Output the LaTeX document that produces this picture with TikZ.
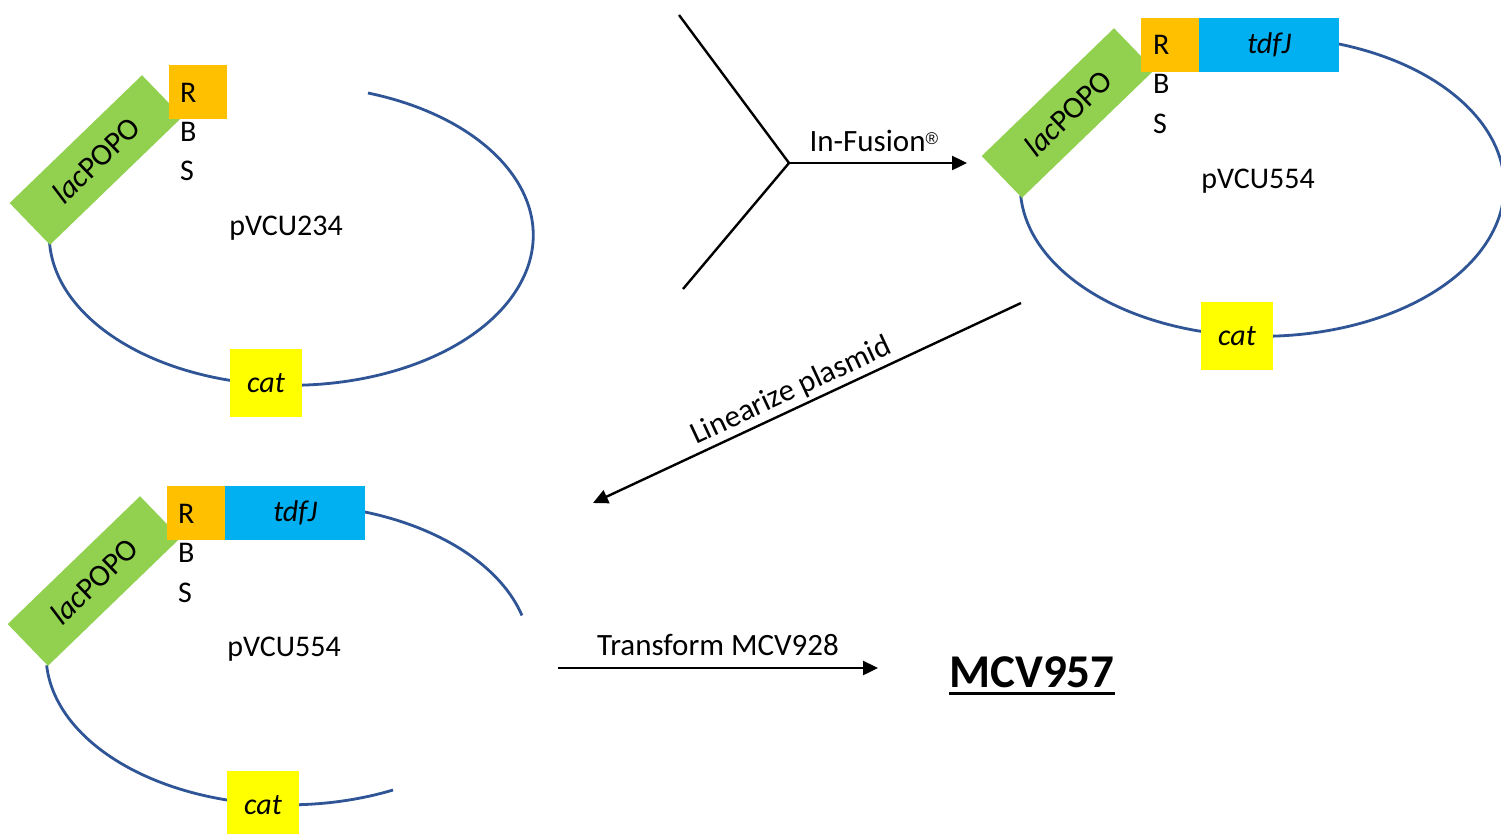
\documentclass[tikz,border=0pt]{standalone}
\usepackage{fontspec}
\setmainfont{Carlito}
\newfontfamily\marksfont{Liberation Sans}
\usetikzlibrary{arrows.meta}

\definecolor{promotergreen}{HTML}{92D050}
\definecolor{rbsorange}{HTML}{FFC000}
\definecolor{geneblue}{HTML}{00B0F0}
\definecolor{catyellow}{HTML}{FFFF00}
\definecolor{plasmidblue}{HTML}{2F5597}

\tikzset{
  plasmidline/.style={draw=plasmidblue, line width=2.8pt},
  promoterbox/.style={fill=promotergreen, rotate=44, minimum width=184pt,
    minimum height=58pt, inner sep=0pt, font=\fontsize{31pt}{36pt}\selectfont},
  rbsbox/.style={fill=rbsorange, minimum width=58pt, minimum height=54pt,
    inner sep=0pt, anchor=north west},
  genebox/.style={fill=geneblue, minimum width=140pt, minimum height=54pt,
    inner sep=0pt, anchor=north west, font=\fontsize{30pt}{36pt}\selectfont\itshape},
  catbox/.style={fill=catyellow, minimum width=72pt, minimum height=68pt,
    inner sep=0pt, font=\fontsize{30pt}{36pt}\selectfont\itshape},
  txt/.style={inner sep=0pt, anchor=base, font=\fontsize{30pt}{36pt}\selectfont},
  steptxt/.style={txt, font=\fontsize{31pt}{36pt}\selectfont},
  letter/.style={txt, anchor=base west},
  flowline/.style={line width=2.4pt, black},
  steparrow/.style={flowline, -{Triangle[length=15pt, width=14pt]}},
}
% registered-trademark sign, raised to cap height
\newcommand{\regmark}{\raisebox{7.5pt}{\marksfont\fontsize{17pt}{17pt}\selectfont ®}}

\begin{document}
\begin{tikzpicture}[x=1pt, y=-1pt]
\path[use as bounding box, fill=white] (0,0) rectangle (1501,833);

% ---------- pVCU234 ----------
\draw[plasmidline] (368,93) arc[start angle=71.5, end angle=-177, x radius=242pt, y radius=150pt];
\node[catbox] (catA) at (266,383) {cat};
\node[promoterbox] (lacA) at (96,160) {\textit{lac}POPO};
\node[rbsbox] (rbsA) at (169,65) {};
\node[letter] (rA) at (180,102) {R};
\node[letter] (bA) at (180,141) {B};
\node[letter] (sA) at (180,180) {S};
\node[txt] (nameA) at (286,235) {pVCU234};

% ---------- pVCU554 (circular) ----------
\draw[plasmidline] (1339,44) arc[start angle=71.5, end angle=-176.5, x radius=242pt, y radius=150pt];
\node[catbox] (catB) at (1237,336) {cat};
\node[promoterbox] (lacB) at (1068,113) {\textit{lac}POPO};
\node[rbsbox] (rbsB) at (1141,18) {};
\node[genebox] (tdfB) at (1199,18) {tdfJ};
\node[letter] (rB) at (1153,54) {R};
\node[letter] (bB) at (1153,93) {B};
\node[letter] (sB) at (1153,133) {S};
\node[txt] (nameB) at (1258,188) {pVCU554};

% ---------- pVCU554 (linearized) ----------
\draw[plasmidline] (365,512) arc[start angle=71.5, end angle=15, x radius=242pt, y radius=150pt];
\draw[plasmidline] (393,790) arc[start angle=-64.3, end angle=-176, x radius=242pt, y radius=150pt];
\node[catbox] (catC) at (263,805) {cat};
\node[promoterbox] (lacC) at (94,581) {\textit{lac}POPO};
\node[rbsbox] (rbsC) at (167,486) {};
\node[genebox] (tdfC) at (225,486) {tdfJ};
\node[letter] (rC) at (178,523) {R};
\node[letter] (bC) at (178,562) {B};
\node[letter] (sC) at (178,602) {S};
\node[txt] (nameC) at (284,656) {pVCU554};

% ---------- In-Fusion step ----------
\coordinate (yTop) at (679,15);
\coordinate (yJoin) at (789,163);
\coordinate (yBot) at (683,289);
\coordinate (fuseEnd) at (967,163);
\draw[flowline] (yTop) -- (yJoin) -- (yBot);
\draw[steparrow] (yJoin) -- (fuseEnd)
  node[steptxt, anchor=south, pos=0.477, above=10pt] {In-Fusion\regmark};

% ---------- linearization step ----------
\coordinate (linStart) at (1021,303);
\coordinate (linEnd) at (593,503);
\draw[steparrow] (linStart) -- (linEnd)
  node[steptxt, anchor=south, pos=0.52, sloped, above=3pt] {Linearize plasmid};

% ---------- transformation step ----------
\coordinate (trStart) at (558,668);
\coordinate (trEnd) at (878,668);
\draw[steparrow] (trStart) -- (trEnd)
  node[steptxt, anchor=south, midway, above=11pt] {Transform MCV928};

\node[inner sep=0pt, anchor=base, font=\fontsize{47pt}{52pt}\selectfont\bfseries] (strain) at (1032,687) {MCV957};
\draw[line width=3pt] ([yshift=-6pt]strain.base west) -- ([yshift=-6pt]strain.base east);
\end{tikzpicture}
\end{document}
